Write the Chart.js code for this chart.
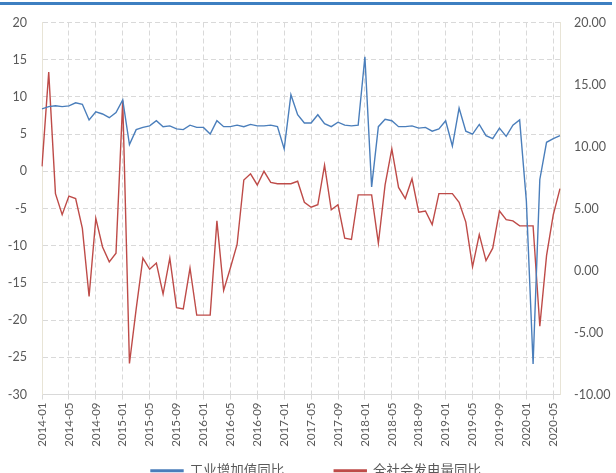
<!doctype html>
<html lang="zh">
  <head>
    <meta charset="utf-8">
    <title>工业增加值与全社会发电量同比</title>
    <script src="https://cdn.jsdelivr.net/npm/chart.js"></script>
    <style>
        html, body { margin: 0; padding: 0; background: #fff; overflow: hidden; }
        #wrap { position: relative; width: 616px; height: 473px; overflow: hidden; }
        #topbar { position: absolute; left: 0; top: 2px; width: 612px; height: 3px; background: #3d7fc1; }
        canvas { position: absolute; left: 0; top: 0; }
    </style>
  </head>
  <body>
    <div id="wrap">
        <canvas id="chart" width="616" height="523"></canvas>
        <div id="topbar"></div>
    </div>

    <script>
        // months, 2014-01 .. 2020-06
        const months = [
            '2014-01','2014-02','2014-03','2014-04','2014-05','2014-06','2014-07','2014-08','2014-09','2014-10','2014-11','2014-12',
            '2015-01','2015-02','2015-03','2015-04','2015-05','2015-06','2015-07','2015-08','2015-09','2015-10','2015-11','2015-12',
            '2016-01','2016-02','2016-03','2016-04','2016-05','2016-06','2016-07','2016-08','2016-09','2016-10','2016-11','2016-12',
            '2017-01','2017-02','2017-03','2017-04','2017-05','2017-06','2017-07','2017-08','2017-09','2017-10','2017-11','2017-12',
            '2018-01','2018-02','2018-03','2018-04','2018-05','2018-06','2018-07','2018-08','2018-09','2018-10','2018-11','2018-12',
            '2019-01','2019-02','2019-03','2019-04','2019-05','2019-06','2019-07','2019-08','2019-09','2019-10','2019-11','2019-12',
            '2020-01','2020-02','2020-03','2020-04','2020-05','2020-06'
        ]

        // 工业增加值同比 (left axis, %)
        const industryYoY = [
            8.4, 8.7, 8.8, 8.7, 8.8, 9.2, 9.0, 6.9, 8.0, 7.7, 7.2, 7.9,
            9.6, 3.6, 5.6, 5.9, 6.1, 6.8, 6.0, 6.1, 5.7, 5.6, 6.2, 5.9,
            5.9, 5.0, 6.8, 6.0, 6.0, 6.2, 6.0, 6.3, 6.1, 6.1, 6.2, 6.0,
            3.0, 10.3, 7.6, 6.5, 6.5, 7.6, 6.4, 6.0, 6.6, 6.2, 6.1, 6.2,
            15.4, -2.1, 6.0, 7.0, 6.8, 6.0, 6.0, 6.1, 5.8, 5.9, 5.4, 5.7,
            6.8, 3.4, 8.5, 5.4, 5.0, 6.3, 4.8, 4.4, 5.8, 4.7, 6.2, 6.9,
            -4.0, -25.9, -1.1, 3.9, 4.4, 4.8
        ]

        // 全社会发电量同比 (right axis, %)
        const powerYoY = [
            8.4, 16.0, 6.2, 4.5, 6.0, 5.8, 3.4, -2.1, 4.2, 1.9, 0.7, 1.4,
            13.7, -7.5, -3.1, 1.0, 0.1, 0.6, -1.9, 1.0, -3.0, -3.1, 0.2, -3.6,
            -3.6, -3.6, 4.0, -1.6, 0.2, 2.1, 7.3, 7.8, 6.9, 8.0, 7.1, 7.0,
            7.0, 7.0, 7.2, 5.5, 5.1, 5.3, 8.5, 4.9, 5.3, 2.6, 2.5, 6.1,
            6.1, 6.1, 2.2, 6.9, 9.8, 6.7, 5.8, 7.4, 4.7, 4.8, 3.7, 6.2,
            6.2, 6.2, 5.5, 3.9, 0.3, 2.9, 0.8, 1.8, 4.8, 4.1, 4.0, 3.6,
            3.6, 3.6, -4.5, 1.2, 4.5, 6.6
        ]

        const LeftTicks = { min: -30, max: 20, step: 5 }
        const RightTicks = { min: -10, max: 20, step: 5 }

        const GridColor = '#d9d9d9'
        const FrameColor = '#e8e4d6'
        const TextColor = '#595959'

        Chart.defaults.font.family = "Lato, 'Noto Sans CJK SC', sans-serif"
        Chart.defaults.color = TextColor

        // legend needs wide gaps between items, so pull it up under the month labels
        const LegendLift = {
            id: 'legendLift',
            afterLayout(chart) {
                const lg = chart.legend
                lg.top -= 35.5
                lg.bottom -= 35.5
                lg.left += 8
                lg.right += 8
            }
        }

        new Chart(document.getElementById('chart'), {
            type: 'line',
            data: {
                labels: months,
                datasets: [
                    {
                        label: '工业增加值同比',
                        data: industryYoY,
                        yAxisID: 'y',
                        borderColor: '#4a7ebb',
                        backgroundColor: '#4a7ebb',
                        borderWidth: 1.4,
                        pointRadius: 0,
                        tension: 0
                    },
                    {
                        label: '全社会发电量同比',
                        data: powerYoY,
                        yAxisID: 'y1',
                        borderColor: '#be4b48',
                        backgroundColor: '#be4b48',
                        borderWidth: 1.4,
                        pointRadius: 0,
                        tension: 0
                    }
                ]
            },
            plugins: [LegendLift],
            options: {
                responsive: false,
                animation: false,
                devicePixelRatio: 1,
                layout: { padding: { top: 19.5, left: 0, right: 0, bottom: 0 } },
                plugins: {
                    tooltip: { enabled: false },
                    legend: {
                        position: 'bottom',
                        labels: {
                            boxWidth: 32,
                            boxHeight: 1.5,
                            padding: 50,
                            color: TextColor,
                            font: { size: 13.5 }
                        }
                    }
                },
                scales: {
                    x: {
                        afterFit: (scale) => { scale.height = 55 },
                        grid: {
                            color: (c) => c.index % 4 === 0 ? GridColor : 'transparent',
                            tickColor: (c) => c.index % 4 === 0 ? GridColor : 'transparent',
                            tickLength: 5,
                            lineWidth: 1
                        },
                        border: { color: GridColor, dash: [5, 3] },
                        ticks: {
                            autoSkip: false,
                            maxRotation: 90,
                            minRotation: 90,
                            padding: 3,
                            font: { size: 11.5 },
                            callback: (v, i) => i % 4 === 0 ? months[i] : ''
                        }
                    },
                    y: {
                        position: 'left',
                        min: LeftTicks.min,
                        max: LeftTicks.max,
                        afterFit: (scale) => { scale.width = 42 },
                        grid: { color: GridColor, drawTicks: false },
                        border: { color: FrameColor, dash: [5, 3] },
                        ticks: { stepSize: LeftTicks.step, padding: 15, font: { size: 12.5 } }
                    },
                    y1: {
                        position: 'right',
                        min: RightTicks.min,
                        max: RightTicks.max,
                        afterFit: (scale) => { scale.width = 56 },
                        grid: { display: false, drawTicks: false },
                        border: { color: FrameColor },
                        ticks: {
                            stepSize: RightTicks.step,
                            padding: 14,
                            font: { size: 12.5 },
                            callback: (v) => v.toFixed(2)
                        }
                    }
                }
            }
        });
    </script>
  </body>
</html>
